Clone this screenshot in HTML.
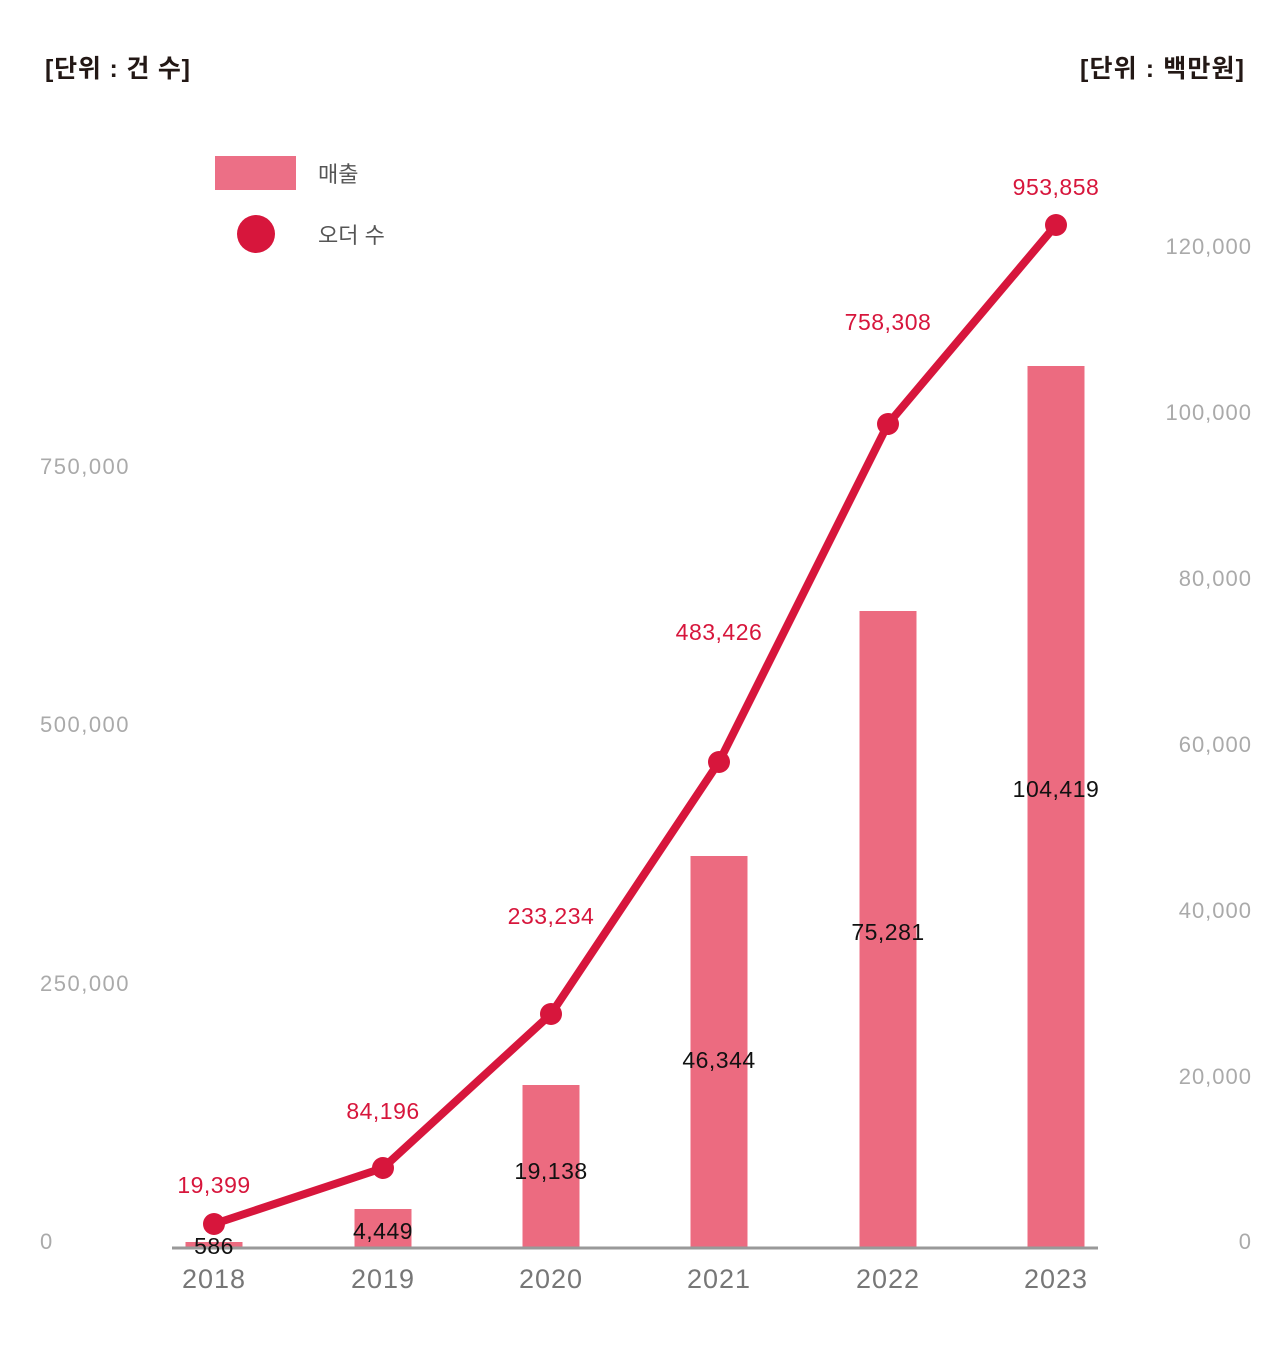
<!DOCTYPE html>
<html><head><meta charset="utf-8"><style>
body{margin:0;background:#fff}
svg{display:block}
text{font-family:"Liberation Sans","Noto Sans CJK KR",sans-serif}
</style></head><body>
<svg width="1280" height="1348" viewBox="0 0 1280 1348" xmlns="http://www.w3.org/2000/svg">
<text x="45" y="77" font-size="25" font-weight="bold" fill="#231815" textLength="145">[단위 : 건 수]</text>
<text x="1080" y="77" font-size="25" font-weight="bold" fill="#231815" textLength="164">[단위 : 백만원]</text>
<rect x="215" y="156" width="81" height="34" fill="#ec6f86"/>
<circle cx="256" cy="234" r="19" fill="#d7163c"/>
<text x="318" y="182" font-size="22" fill="#555">매출</text>
<text x="318" y="243" font-size="22" fill="#555">오더 수</text>
<g font-size="22" fill="#aaa" letter-spacing="1.5">
<text x="40" y="1249">0</text>
<text x="40" y="991">250,000</text>
<text x="40" y="732">500,000</text>
<text x="40" y="474">750,000</text>
</g>
<g font-size="22" fill="#aaa" text-anchor="end" letter-spacing="1">
<text x="1252" y="1249">0</text>
<text x="1252" y="1084">20,000</text>
<text x="1252" y="918">40,000</text>
<text x="1252" y="752">60,000</text>
<text x="1252" y="586">80,000</text>
<text x="1252" y="420">100,000</text>
<text x="1252" y="254">120,000</text>
</g>
<g fill="#ec6b80">
<rect x="185.5" y="1242" width="57" height="6"/>
<rect x="354.5" y="1209" width="57" height="39"/>
<rect x="522.5" y="1085" width="57" height="163"/>
<rect x="690.5" y="856" width="57" height="392"/>
<rect x="859.5" y="611" width="57" height="637"/>
<rect x="1027.5" y="366" width="57" height="882"/>
</g>
<line x1="172" y1="1248" x2="1098" y2="1248" stroke="#999" stroke-width="3"/>
<polyline points="214,1224 383,1168 551,1014 719,762 888,424 1056,225" fill="none" stroke="#d7163c" stroke-width="8" stroke-linejoin="round"/>
<g fill="#d7163c">
<circle cx="214" cy="1224" r="11"/><circle cx="383" cy="1168" r="11"/><circle cx="551" cy="1014" r="11"/>
<circle cx="719" cy="762" r="11"/><circle cx="888" cy="424" r="11"/><circle cx="1056" cy="225" r="11"/>
</g>
<g font-size="23" fill="#d7163c" text-anchor="middle" letter-spacing="0.5">
<text x="214" y="1193">19,399</text>
<text x="383" y="1119">84,196</text>
<text x="551" y="924">233,234</text>
<text x="719" y="640">483,426</text>
<text x="888" y="330">758,308</text>
<text x="1056" y="195">953,858</text>
</g>
<g font-size="23" fill="#111" text-anchor="middle" letter-spacing="0.5">
<text x="214" y="1254">586</text>
<text x="383" y="1239">4,449</text>
<text x="551" y="1179">19,138</text>
<text x="719" y="1068">46,344</text>
<text x="888" y="940">75,281</text>
<text x="1056" y="797">104,419</text>
</g>
<g font-size="27" fill="#777" text-anchor="middle" letter-spacing="1">
<text x="214" y="1288">2018</text>
<text x="383" y="1288">2019</text>
<text x="551" y="1288">2020</text>
<text x="719" y="1288">2021</text>
<text x="888" y="1288">2022</text>
<text x="1056" y="1288">2023</text>
</g>
</svg>
</body></html>
